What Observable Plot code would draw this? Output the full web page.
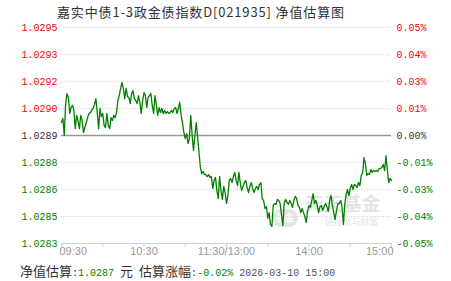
<!DOCTYPE html>
<html><head><meta charset="utf-8">
<script src="https://cdn.jsdelivr.net/npm/d3@7"></script>
<script src="https://cdn.jsdelivr.net/npm/@observablehq/plot@0.6"></script>
<style>
body{margin:0;background:#fff;}
#wrap{position:relative;width:451px;height:281px;overflow:hidden;background:#fff;}
#title{position:absolute;left:57px;top:3px;font:13px/18px "Noto Sans CJK SC",sans-serif;letter-spacing:0.85px;color:#333;white-space:nowrap;}
#cap{position:absolute;left:20px;top:262px;font:13px/18px "Noto Sans CJK SC",sans-serif;color:#333;white-space:pre;}
#logo{position:absolute;left:272px;top:209px;width:26px;height:18px;border-radius:9px;background:#e6e6e6;color:#fff;font:bold 9px/18px "Noto Sans CJK SC",sans-serif;text-align:center;}
#chart{position:absolute;left:0;top:0;}
.mono{font-family:"Liberation Mono",monospace;font-size:10px;}
.g{color:#008000;}
.d{color:#555;}
</style>
</head><body>
<div id="wrap"><div id="logo">基金</div><div id="chart"></div><div id="title"></div><div id="cap"></div></div>
<script>
const titleText = "嘉实中债1-3政金债指数D[021935] 净值估算图";
const timeTicks = [0, 30, 60, 90, 120, 150, 180, 210, 240];
const timeLabelPos = [0, 60, 120, 180, 240];
const timeLabels = ["09:30", "10:30", "11:30/13:00", "14:00", "15:00"];
const yTicks = [-0.05, -0.0375, -0.025, -0.0125, 0, 0.0125, 0.025, 0.0375, 0.05];
const navLabels = ["1.0283", "1.0285", "1.0286", "1.0288", "1.0289", "1.0290", "1.0292", "1.0293", "1.0295"];
const pctLabels = ["-0.05%", "-0.04%", "-0.03%", "-0.01%", "0.00%", "0.01%", "0.03%", "0.04%", "0.05%"];
const estNav = "1.0287";
const estChg = "-0.02%";
const stamp = "2026-03-10 15:00";
// estimated change (%) per minute, 09:30-11:30 then 13:00-15:00
const pct = [
0.0060,0.0079,0.0000,0.0148,0.0194,0.0176,0.0102,0.0130,0.0139,0.0116,
0.0032,0.0093,0.0069,0.0032,0.0093,0.0069,0.0014,0.0037,0.0060,0.0083,
0.0102,0.0106,0.0116,0.0125,0.0144,0.0171,0.0106,0.0032,0.0125,0.0088,
0.0102,0.0046,0.0037,0.0102,0.0046,0.0032,0.0083,0.0069,0.0093,0.0083,
0.0106,0.0162,0.0185,0.0218,0.0245,0.0218,0.0171,0.0218,0.0181,0.0176,
0.0148,0.0194,0.0208,0.0171,0.0162,0.0148,0.0185,0.0153,0.0102,0.0162,
0.0199,0.0185,0.0130,0.0176,0.0185,0.0194,0.0139,0.0102,0.0185,0.0139,
0.0093,0.0130,0.0106,0.0125,0.0102,0.0116,0.0102,0.0111,0.0102,0.0106,
0.0116,0.0106,0.0125,0.0130,0.0102,0.0125,0.0153,0.0093,0.0056,0.0014,
-0.0014,0.0009,-0.0037,-0.0014,0.0093,0.0000,-0.0069,0.0000,0.0060,-0.0009,
-0.0079,-0.0148,-0.0176,-0.0167,-0.0181,-0.0181,-0.0190,-0.0181,-0.0194,-0.0190,
-0.0245,-0.0208,-0.0194,-0.0255,-0.0292,-0.0190,-0.0255,-0.0296,-0.0236,-0.0264,
-0.0315,-0.0278,-0.0208,-0.0199,-0.0218,-0.0190,-0.0171,-0.0208,-0.0232,-0.0171,
-0.0218,-0.0255,-0.0236,-0.0218,-0.0208,-0.0241,-0.0264,-0.0236,-0.0218,-0.0245,
-0.0264,-0.0245,-0.0236,-0.0250,-0.0227,-0.0218,-0.0292,-0.0301,-0.0338,-0.0329,
-0.0384,-0.0357,-0.0412,-0.0421,-0.0324,-0.0315,-0.0319,-0.0296,-0.0301,-0.0315,
-0.0366,-0.0417,-0.0310,-0.0296,-0.0310,-0.0319,-0.0301,-0.0315,-0.0333,-0.0301,
-0.0282,-0.0292,-0.0324,-0.0333,-0.0357,-0.0338,-0.0357,-0.0375,-0.0403,-0.0347,
-0.0324,-0.0333,-0.0301,-0.0269,-0.0315,-0.0301,-0.0324,-0.0357,-0.0329,-0.0324,
-0.0347,-0.0329,-0.0315,-0.0329,-0.0352,-0.0301,-0.0278,-0.0324,-0.0357,-0.0389,
-0.0347,-0.0315,-0.0315,-0.0301,-0.0329,-0.0412,-0.0319,-0.0273,-0.0250,-0.0278,
-0.0245,-0.0227,-0.0250,-0.0227,-0.0232,-0.0241,-0.0218,-0.0232,-0.0185,-0.0171,
-0.0102,-0.0130,-0.0185,-0.0176,-0.0181,-0.0157,-0.0171,-0.0162,-0.0167,-0.0162,
-0.0167,-0.0153,-0.0153,-0.0148,-0.0134,-0.0162,-0.0093,-0.0162,-0.0218,-0.0199,
-0.0208
];

const up = "#ff0000", down = "#008000", flat = "#333333";
const colorOf = v => v > 0 ? up : v < 0 ? down : flat;
const wm = "#e4e4e4";

const chart = Plot.plot({
  width: 451,
  height: 258,
  marginTop: 27,
  marginBottom: 15,
  marginLeft: 61,
  marginRight: 60,
  style: {background: "transparent", fontFamily: "Liberation Sans, Arial, sans-serif"},
  x: {domain: [0, 240]},
  y: {domain: [-0.05, 0.05], axis: null},
  color: {type: "identity"},
  marks: [
    Plot.ruleY(yTicks.filter(v => v !== 0 && v !== -0.05), {stroke: "#d8d8d8", strokeDasharray: "1,1"}),
    Plot.text(["天天基金"], {frameAnchor: "bottom-right", textAnchor: "end", dx: -11, dy: -33, fontSize: 19, fontWeight: "bold", fill: wm, fontFamily: "Noto Sans CJK SC"}),
    Plot.text(["链接您与财富"], {frameAnchor: "bottom-right", textAnchor: "end", dx: -13, dy: -19, fontSize: 9, fill: wm, fontFamily: "Noto Sans CJK SC", letterSpacing: "3.4px"}),
    Plot.ruleY([0], {stroke: "#999", strokeWidth: 1.5}),
    Plot.ruleY([-0.05], {stroke: "#c4d2e0"}),
    Plot.axisX({ticks: timeTicks, tickSize: 4, tickFormat: () => "", stroke: "#c4d2e0"}),
    Plot.lineY(pct, {x: (d, i) => i, y: d => d, stroke: "#008000", strokeWidth: 1.3}),
    Plot.text(yTicks, {y: d => d, text: (d, i) => navLabels[i], frameAnchor: "left", textAnchor: "end", dx: -4, fill: colorOf, fontFamily: "Liberation Mono", fontSize: 10}),
    Plot.text(yTicks, {y: d => d, text: (d, i) => pctLabels[i], frameAnchor: "right", textAnchor: "start", dx: 5, fill: colorOf, fontFamily: "Liberation Mono", fontSize: 10}),
    Plot.text(timeLabelPos.slice(0, 1), {x: d => d, text: (d, i) => timeLabels[0], frameAnchor: "bottom", textAnchor: "start", dx: -2, dy: 11, fill: "#999", fontSize: 11}),
    Plot.text(timeLabelPos.slice(1, 4), {x: d => d, text: (d, i) => timeLabels[i + 1], frameAnchor: "bottom", textAnchor: "middle", dy: 11, fill: "#999", fontSize: 11}),
    Plot.text(timeLabelPos.slice(4), {x: d => d, text: (d, i) => timeLabels[4], frameAnchor: "bottom", textAnchor: "end", dx: 2, dy: 11, fill: "#999", fontSize: 11})
  ]
});
document.getElementById("chart").appendChild(chart);
document.getElementById("title").textContent = titleText;
const cap = document.getElementById("cap");
const m = s => '<span class="mono">' + s + '</span>';
cap.innerHTML = '净值估算' + m(':') + '<span class="mono g">' + estNav + '</span>' + m(' ') + '元' + m(' ') + '估算涨幅' + m(':') + '<span class="mono g">' + estChg + '</span>' + m(' ') + '<span class="mono d">' + stamp + '</span>';
</script>
</body></html>
